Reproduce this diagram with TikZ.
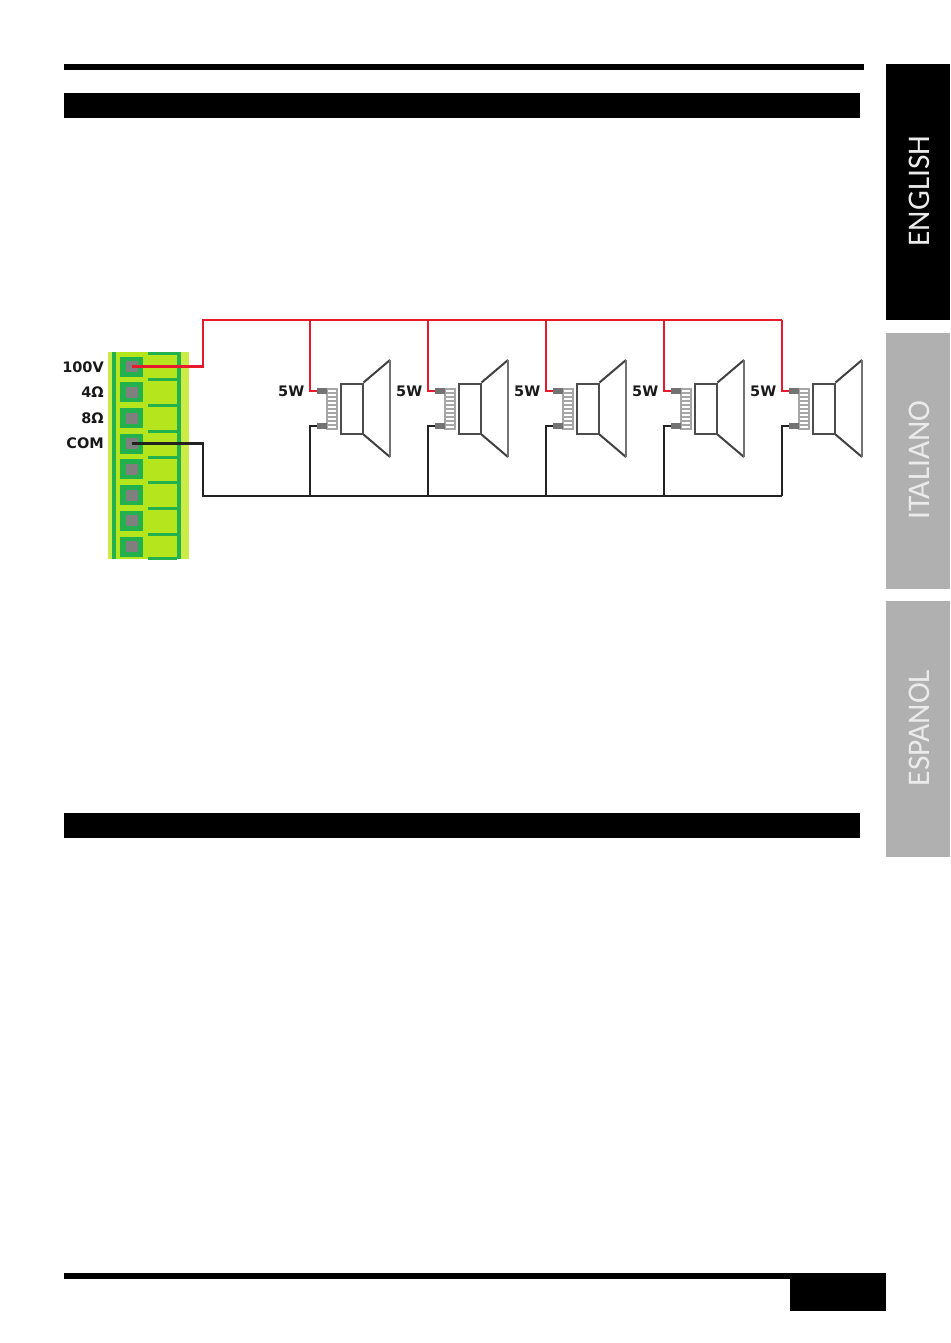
\documentclass[tikz,border=0pt]{standalone}
\usepackage{fontspec}
\setmainfont{DejaVu Sans}
\newfontfamily\tabfont{Carlito}
\usetikzlibrary{positioning}
\definecolor{blockpale}{HTML}{CDEB45}
\definecolor{blocklime}{HTML}{B5E61D}
\definecolor{blockgreen}{HTML}{22B14C}
\definecolor{pingray}{HTML}{7F7F7F}
\definecolor{tabgray}{HTML}{B0B0B0}
\definecolor{wirered}{HTML}{E8192C}
\definecolor{wireblack}{HTML}{222222}
\tikzset{>=stealth,
	% page furniture
	bar/.style={fill=black,draw=none},
	tablabel/.style={text=white!92!black,rotate=90,font=\tabfont\fontsize{31.5}{32}\selectfont,inner sep=0pt},
	% terminal block
	termbox/.style={fill=blockgreen,draw=none,minimum width=23pt,minimum height=20pt,inner sep=0pt},
	termpin/.style={fill=pingray,draw=none,minimum width=12pt,minimum height=11pt,inner sep=0pt},
	termlabel/.style={anchor=east,inner sep=0pt,font=\bfseries\fontsize{14.5}{15}\selectfont,text=black!90},
	% wires
	redwire/.style={color=wirered,line width=2.7pt},
	blackwire/.style={color=wireblack,line width=2.7pt},
	% speakers
	spkbox/.style={fill=white,draw=black!70,line width=2pt,minimum width=22pt,minimum height=50pt,inner sep=0pt},
	spkcoil/.style={fill=black!35,draw=none,minimum width=12pt,minimum height=42pt,inner sep=0pt},
	spkstub/.style={fill=black!55,draw=none,minimum width=10pt,minimum height=6pt,inner sep=0pt},
	spkcone/.style={draw=black!75,line width=2pt,line join=round},
	spkrim/.style={draw=black!55,line width=2.4pt},
	wattlabel/.style={inner sep=0pt,font=\bfseries\fontsize{14.5}{15}\selectfont,text=black!90},
}
\begin{document}
\begin{tikzpicture}[x=1pt,y=-1pt]
\useasboundingbox (0,0) rectangle (950,1343);
% rules and title bars
\fill[bar] (64,64) rectangle (864,70);
\fill[bar] (64,93) rectangle (860,118);
\fill[bar] (64,813) rectangle (860,838);
\fill[bar] (64,1273) rectangle (886,1279);
\fill[bar] (790,1279) rectangle (886,1311);
% language tabs
\fill[black] (886,64) rectangle (950,320);
\fill[tabgray] (886,333) rectangle (950,589);
\fill[tabgray] (886,601) rectangle (950,857);
\node[tablabel] (tabenglish) at (919,191) {ENGLISH};
\node[tablabel] (tabitaliano) at (919,460) {ITALIANO};
\node[tablabel] (tabespanol) at (919,728) {ESPANOL};
% the terminal block
\fill[blockpale] (108,352) rectangle (189,559);
\fill[blocklime] (116,352) rectangle (177,559);
\fill[blockgreen] (112,352) rectangle (116,559);
\fill[blockgreen] (177,352) rectangle (181,559);
\foreach \y in {353,379,405,431,457,482,508,534,558}
  \fill[blockgreen] (148,\y-1.5) rectangle (177,\y+1.5);
\foreach \n/\y in {1/366.5,2/392,3/418,4/443.5,5/469,6/495,7/520.5,8/546.5}
{
  \node[termbox] (term\n) at (131.5,\y) {};
  \node[termpin] (pin\n) at (131.5,\y) {};
}
\node[termlabel] (lab100v) at (104,367) {100V};
\node[termlabel] (lab4) at (104,392.5) {4Ω};
\node[termlabel] (lab8) at (104,418.5) {8Ω};
\node[termlabel] (labcom) at (104,443.5) {COM};
% the bus lines
\coordinate (rbus0) at (203,320);
\coordinate (cbus0) at (203,496);
\foreach \n/\x in {1/310,2/428,3/546,4/664,5/782}
{
  \coordinate (rbus\n) at (\x,320);
  \coordinate (cbus\n) at (\x,496);
  % coil first, the box overlaps it
  \node[spkcoil] (coil\n) at (\x+22,409) {};
  \foreach \k in {0,...,9}
    \draw[white,line width=1.3pt] (\x+18,391+\k*4) -- (\x+26,391+\k*4);
  \node[spkstub] (hot\n) at (\x+12,391) {};
  \node[spkstub] (cold\n) at (\x+12,426) {};
  \node[spkbox] (box\n) at (\x+41.5,408.5) {};
  \coordinate (conetop\n) at (\x+80,360);
  \coordinate (conebot\n) at (\x+80,457);
  \draw[spkcone] (box\n.north east) -- (conetop\n);
  \draw[spkcone] (box\n.south east) -- (conebot\n);
  \draw[spkrim] (conetop\n) -- (conebot\n);
  \node[wattlabel,left=5.5pt of rbus\n |- hot\n] (watt\n) {5W};
  % drops from the bus to the coil
  \draw[redwire] (rbus\n) |- (hot\n.west);
  \draw[blackwire] (cbus\n) |- (cold\n.west);
}
\draw[redwire] (pin1.center) -| (rbus0) -- (rbus5);
\draw[blackwire] (pin4.center) -| (cbus0) -- (cbus5);
\end{tikzpicture}
\end{document}
